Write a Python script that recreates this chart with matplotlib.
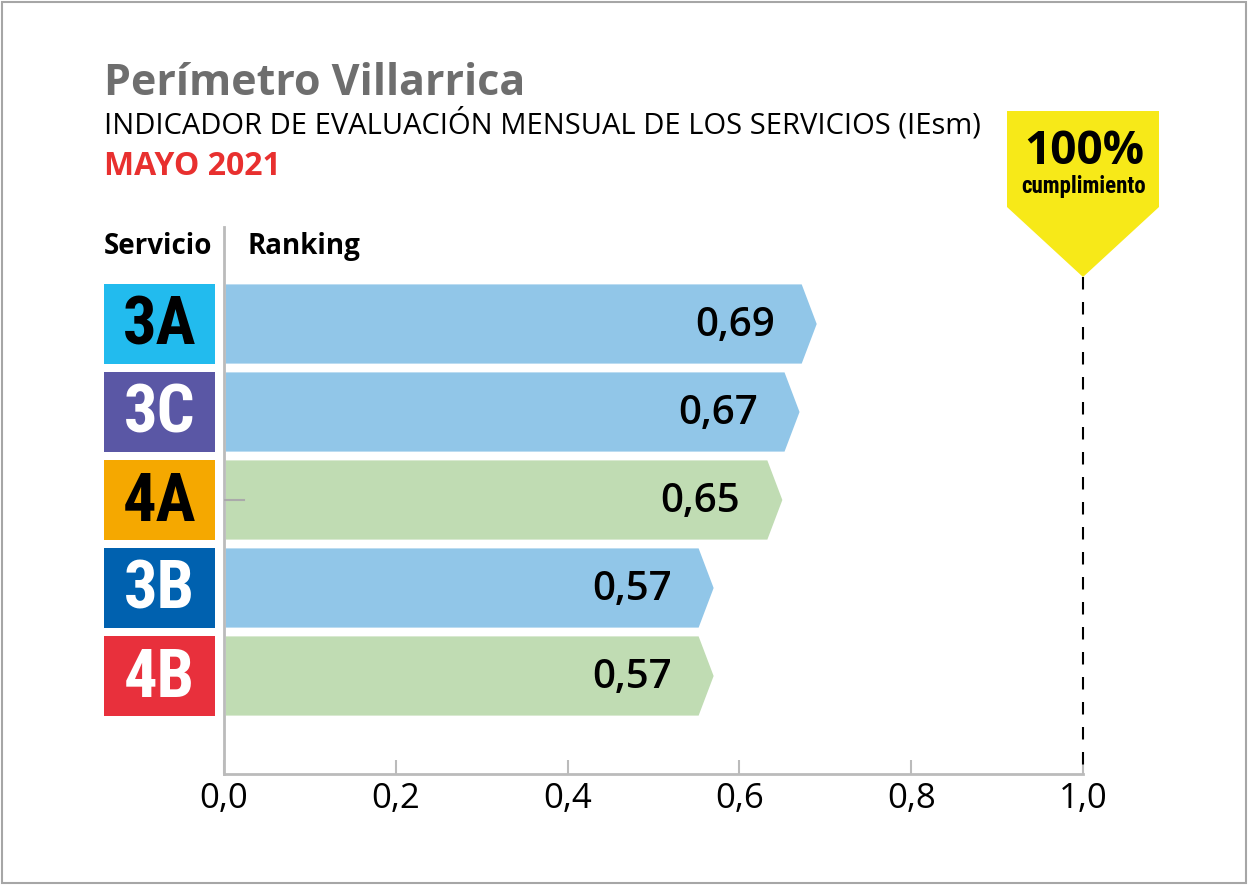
import os
import matplotlib
matplotlib.use("Agg")
import matplotlib.pyplot as plt
from matplotlib.patches import Polygon, Rectangle
from matplotlib import font_manager
from matplotlib.font_manager import FontProperties

services = ["3A", "3C", "4A", "3B", "4B"]
values = [0.69, 0.67, 0.65, 0.57, 0.57]
value_labels = ["0,69", "0,67", "0,65", "0,57", "0,57"]
box_colors = ["#22BBEE", "#5A57A5", "#F5A800", "#0061AF", "#E8303C"]
box_text_colors = ["black", "white", "black", "white", "white"]
bar_colors = ["#91C6E8", "#91C6E8", "#C0DCB3", "#91C6E8", "#C0DCB3"]
xticks = [0.0, 0.2, 0.4, 0.6, 0.8, 1.0]
xtick_labels = ["0,0", "0,2", "0,4", "0,6", "0,8", "1,0"]

W, H = 1248, 885
fig = plt.figure(figsize=(W / 100, H / 100), dpi=100)

# find a condensed/narrow bold font file
prefs = []
for f in font_manager.fontManager.ttflist:
    b = os.path.basename(f.fname)
    bl = b.lower()
    if ("condensed" in bl or "narrow" in bl) and "bold" in bl and "italic" not in bl \
            and "semi" not in bl and "extra" not in bl and "oblique" not in bl:
        rank = 0 if "roboto" in bl else 1 if "liberation" in bl else 2
        prefs.append((rank, f.fname))
prefs.sort()
if prefs:
    cond_fp = lambda size: FontProperties(fname=prefs[0][1], size=size)
else:
    cond_fp = lambda size: FontProperties(family="DejaVu Sans", weight="bold",
                                          stretch="condensed", size=size * 0.8)
main = ["Open Sans", "DejaVu Sans"]

# axes placement in pixels
x0px, x1px = 224, 1083
ytop, ybot = 227, 774
ax = fig.add_axes([x0px / W, (H - ybot) / H, (x1px - x0px) / W, (ybot - ytop) / H])
spacing = 88.0
c0 = 324.0
ax.set_xlim(0, 1)
ax.set_ylim((ybot - c0) / spacing, (ytop - c0) / spacing)

bar_h = 0.9
tip = 15 / (x1px - x0px)
for i, (v, col) in enumerate(zip(values, bar_colors)):
    poly = Polygon([(0.002, i - bar_h / 2), (v - tip, i - bar_h / 2), (v, i),
                    (v - tip, i + bar_h / 2), (0.002, i + bar_h / 2)],
                   closed=True, facecolor=col, edgecolor="none", zorder=2)
    ax.add_patch(poly)
    ax.text(v - 42 / (x1px - x0px), i + 0.02, value_labels[i], ha="right", va="center",
            fontsize=29, family=main, fontweight="semibold", color="black", zorder=3)

bx0 = (104 - x0px) / (x1px - x0px)
bx1 = (215 - x0px) / (x1px - x0px)
for i, s in enumerate(services):
    r = Rectangle((bx0, i - bar_h / 2), bx1 - bx0, bar_h, facecolor=box_colors[i],
                  edgecolor="none", clip_on=False, zorder=2)
    ax.add_patch(r)
    ax.text((bx0 + bx1) / 2, i + 0.03, s, ha="center", va="center",
            fontproperties=cond_fp(48), color=box_text_colors[i],
            clip_on=False, zorder=3)

# small tick artifact
ax.plot([0, 20 / (x1px - x0px)], [2, 2], color="#AAAAAA", lw=1.5, zorder=3)

# dashed 100% line
ax.plot([1.0, 1.0], [(277 - c0) / spacing, (ybot - c0) / spacing], color="black",
        lw=1.5, dashes=(6, 6), zorder=3, clip_on=False)

for sp in ["top", "right"]:
    ax.spines[sp].set_visible(False)
for sp in ["left", "bottom"]:
    ax.spines[sp].set_color("#BBBBBB")
    ax.spines[sp].set_linewidth(2)
ax.set_xticks(xticks)
ax.set_xticklabels(xtick_labels, family=main, fontsize=25)
ax.tick_params(axis="x", direction="in", length=10, width=1.5, color="#BBBBBB", pad=6)
ax.set_yticks([])
ax.set_facecolor("none")

# yellow pentagon
yl = [(1007, 111), (1159, 111), (1159, 207), (1083, 277), (1007, 207)]
fig.patches.append(Polygon([(x / W, 1 - y / H) for x, y in yl], closed=True,
                           transform=fig.transFigure, facecolor="#F7E918",
                           edgecolor="none"))
fig.text(1084 / W, 1 - 151 / H, "100%", ha="center", va="center", fontsize=33,
         fontweight="bold", family=main)
fig.text(1084 / W, 1 - 186 / H, "cumplimiento", ha="center", va="center",
         fontproperties=cond_fp(16.5))

# titles
fig.text(104 / W, 1 - 95 / H, "Perímetro Villarrica", ha="left", va="baseline",
         fontsize=31, fontweight="bold", color="#6E6E6E", family=main)
fig.text(104 / W, 1 - 134 / H,
         "INDICADOR DE EVALUACIÓN MENSUAL DE LOS SERVICIOS (IEsm)",
         ha="left", va="baseline", fontsize=21, color="black", family=main)
fig.text(104 / W, 1 - 175 / H, "MAYO 2021", ha="left", va="baseline",
         fontsize=23, fontweight="bold", color="#E8302F", family=main)
fig.text(104 / W, 1 - 254 / H, "Servicio", ha="left", va="baseline",
         fontsize=20, fontweight="bold", color="black", family=main)
fig.text(248 / W, 1 - 254 / H, "Ranking", ha="left", va="baseline",
         fontsize=20, fontweight="bold", color="black", family=main)

# border
fig.patches.append(Rectangle((2 / W, 2 / H), (W - 4) / W, (H - 4) / H,
                             transform=fig.transFigure, facecolor="none",
                             edgecolor="#A6A6A6", linewidth=1.5))

fig.savefig("out.png", dpi=100)
